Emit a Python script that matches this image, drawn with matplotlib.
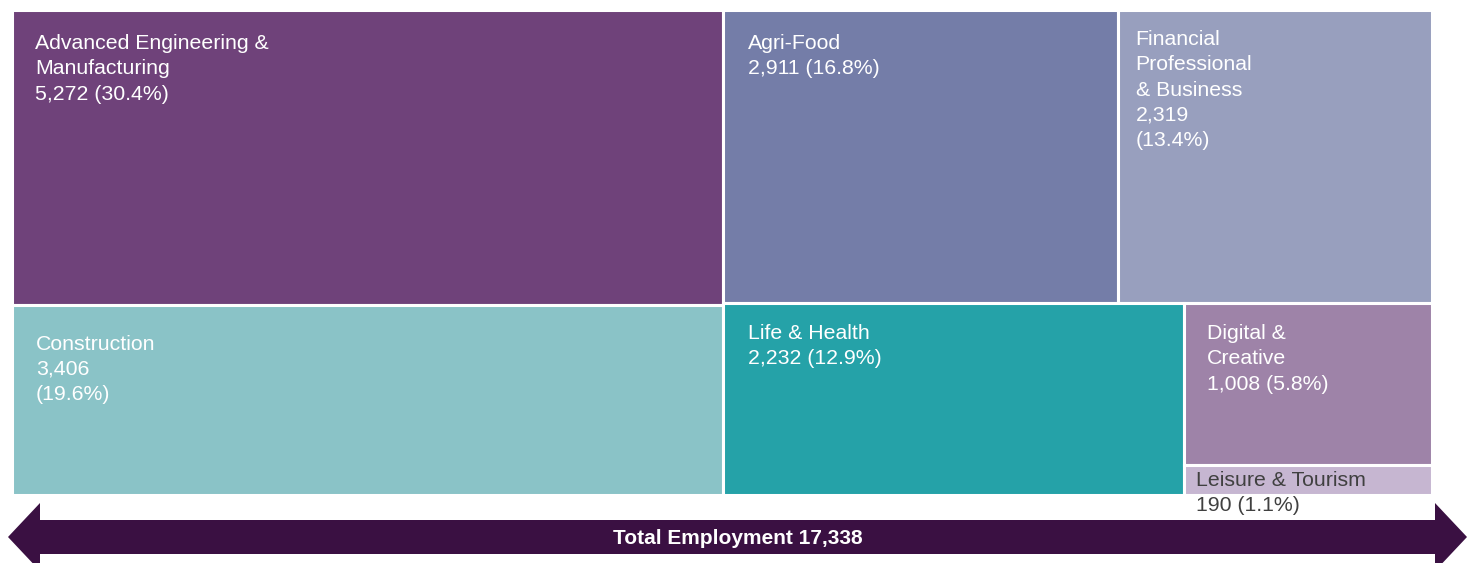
import matplotlib.pyplot as plt
from matplotlib.patches import Rectangle, Polygon
from matplotlib.transforms import offset_copy

plt.rcParams['font.family'] = ['Liberation Sans', 'DejaVu Sans']

# sector data
sectors = ['Advanced Engineering &\nManufacturing', 'Construction', 'Agri-Food',
           'Financial\nProfessional\n& Business', 'Life & Health',
           'Digital &\nCreative', 'Leisure & Tourism']
values = [5272, 3406, 2911, 2319, 2232, 1008, 190]
colors = ['#6F427A', '#8AC3C7', '#747DA8', '#989FBE', '#25A2A8', '#9E83A8', '#C6B6D1']
# how the value line is broken in each label
split_pct = [False, True, False, True, False, False, False]
text_cols = ['white'] * 6 + ['#404040']

total = sum(values)
aem, con, agri, fpb, life, dig, lei = values

# simple treemap layout (unit square, y up)
w1 = (aem + con) / total
h_aem = aem / (aem + con)
rest = total - aem - con
h_top = (agri + fpb) / rest
w_agri = agri / (agri + fpb) * (1 - w1)
w_life = life / (life + dig + lei) * (1 - w1)
h_dig = dig / (dig + lei) * (1 - h_top)

rects = [
    (0, 1 - h_aem, w1, h_aem),
    (0, 0, w1, 1 - h_aem),
    (w1, 1 - h_top, w_agri, h_top),
    (w1 + w_agri, 1 - h_top, 1 - w1 - w_agri, h_top),
    (w1, 0, w_life, 1 - h_top),
    (w1 + w_life, 1 - h_top - h_dig, 1 - w1 - w_life, h_dig),
    (w1 + w_life, 0, 1 - w1 - w_life, 1 - h_top - h_dig),
]
# label offsets in pixels from top-left corner
offs = [(23, 24), (24, 30), (25, 24), (18, 20), (25, 21), (23, 21), (12, 6)]

W, H = 1473, 563
fig = plt.figure(figsize=(W / 100, H / 100), dpi=100)
ax = fig.add_axes([12 / W, (H - 495) / H, (1432 - 12) / W, (495 - 10) / H])
ax.set_xlim(0, 1)
ax.set_ylim(0, 1)
ax.axis('off')

for i, (x, y, w, h) in enumerate(rects):
    ax.add_patch(Rectangle((x, y), w, h, facecolor=colors[i], edgecolor='white', linewidth=2.2))
    pct = values[i] / total * 100
    sep = '\n' if split_pct[i] else ' '
    label = '%s\n%s%s(%.1f%%)' % (sectors[i], format(values[i], ','), sep, pct)
    tr = offset_copy(ax.transData, fig=fig, x=offs[i][0], y=-offs[i][1], units='dots')
    ax.text(x, y + h, label, transform=tr, color=text_cols[i], fontsize=15.3,
            va='top', ha='left', linespacing=1.42, clip_on=False)

# total employment arrow underneath
ax2 = fig.add_axes([0, 0, 1, 1], zorder=-1)
ax2.set_xlim(0, W)
ax2.set_ylim(H, 0)
ax2.axis('off')
yc, sh, hh, hl = 537, 17, 34, 32
x0, x1 = 8, 1467
pts = [(x0, yc), (x0 + hl, yc - hh), (x0 + hl, yc - sh), (x1 - hl, yc - sh), (x1 - hl, yc - hh),
       (x1, yc), (x1 - hl, yc + hh), (x1 - hl, yc + sh), (x0 + hl, yc + sh), (x0 + hl, yc + hh)]
ax2.add_patch(Polygon(pts, closed=True, facecolor='#3A1042', edgecolor='none'))
ax2.text((x0 + x1) / 2, yc + 1, 'Total Employment ' + format(total, ','), color='white',
         fontsize=15, fontweight='bold', ha='center', va='center')

fig.savefig('out.png', dpi=100)
